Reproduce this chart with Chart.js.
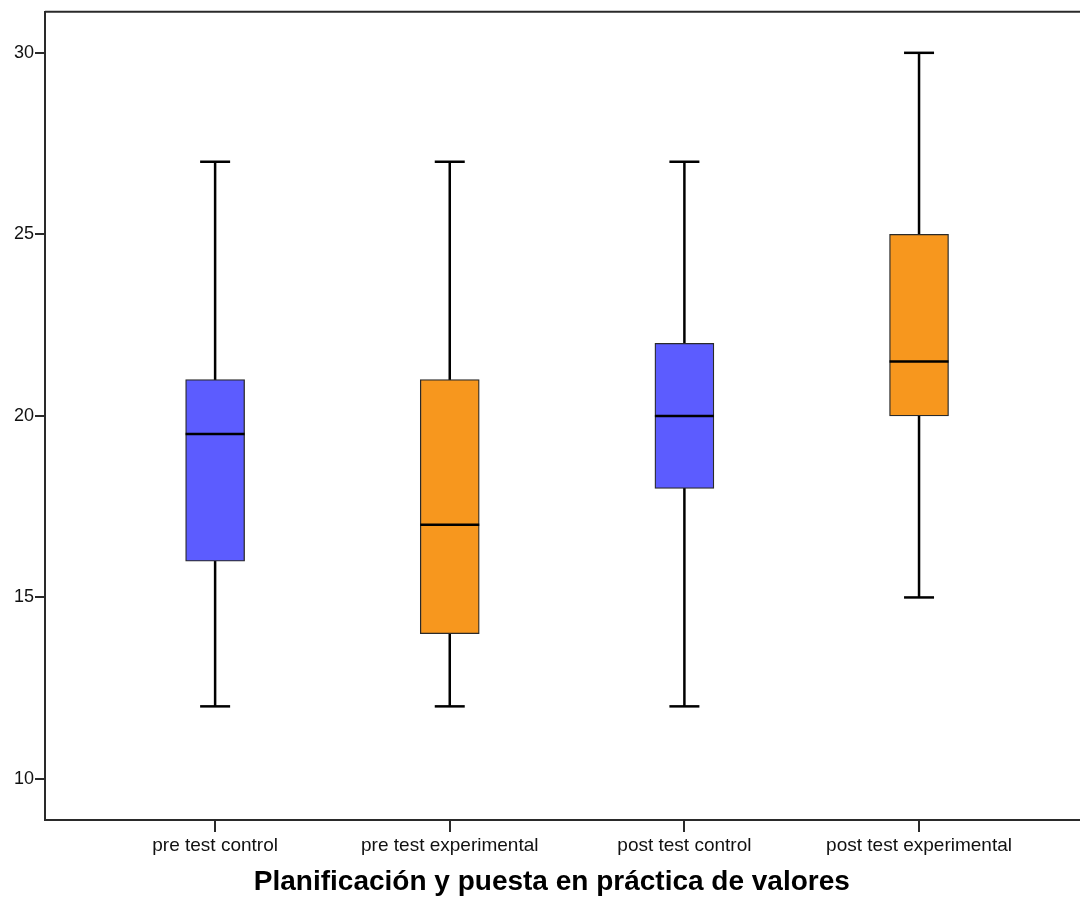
<!DOCTYPE html>
<html>
<head>
<meta charset="utf-8">
<script src="https://cdn.jsdelivr.net/npm/chart.js@4.4.1/dist/chart.umd.min.js"></script>
<style>
  html, body { margin: 0; padding: 0; background: #fff; }
  canvas { display: block; }
</style>
</head>
<body>
<canvas id="boxChart" width="1080" height="897"></canvas>
<script>
const categories = ['pre test control', 'pre test experimental', 'post test control', 'post test experimental'];
const minVals = [12, 12, 12, 15];
const q1Vals = [16, 14, 18, 20];
const medianVals = [19.5, 17, 20, 21.5];
const q3Vals = [21, 21, 22, 25];
const maxVals = [27, 27, 27, 30];
const boxColors = ['#5C5CFF', '#F7971E', '#5C5CFF', '#F7971E'];
const yTicks = [10, 15, 20, 25, 30];
const axisTitle = 'Planificación y puesta en práctica de valores';

const lineColor = '#2a2a2a';

// whiskers behind the boxes, medians on top, plus top frame line and axis title
const boxPlotPlugin = {
  id: 'boxPlot',
  beforeDatasetsDraw(chart) {
    const { ctx, scales: { x, y } } = chart;
    ctx.save();
    ctx.strokeStyle = '#000';
    ctx.lineWidth = 2.5;
    categories.forEach((c, i) => {
      const px = x.getPixelForValue(i);
      ctx.beginPath();
      ctx.moveTo(px, y.getPixelForValue(maxVals[i]));
      ctx.lineTo(px, y.getPixelForValue(minVals[i]));
      ctx.stroke();
      [minVals[i], maxVals[i]].forEach(v => {
        const py = y.getPixelForValue(v);
        ctx.beginPath();
        ctx.moveTo(px - 15, py);
        ctx.lineTo(px + 15, py);
        ctx.stroke();
      });
    });
    ctx.restore();
  },
  afterDatasetsDraw(chart) {
    const { ctx, scales: { x, y } } = chart;
    const bars = chart.getDatasetMeta(0).data;
    ctx.save();
    ctx.strokeStyle = '#000';
    ctx.lineWidth = 2.5;
    categories.forEach((c, i) => {
      const py = y.getPixelForValue(medianVals[i]);
      const half = bars[i].width / 2;
      const px = x.getPixelForValue(i);
      ctx.beginPath();
      ctx.moveTo(px - half, py);
      ctx.lineTo(px + half, py);
      ctx.stroke();
    });
    ctx.restore();
  },
  afterDraw(chart) {
    const { ctx, chartArea } = chart;
    ctx.save();
    ctx.strokeStyle = lineColor;
    ctx.lineWidth = 2;
    ctx.beginPath();
    ctx.moveTo(chartArea.left, chartArea.top);
    ctx.lineTo(chartArea.right, chartArea.top);
    ctx.stroke();
    ctx.fillStyle = '#000';
    ctx.font = 'bold 28px "Liberation Sans", Arial, sans-serif';
    ctx.textAlign = 'center';
    ctx.textBaseline = 'middle';
    ctx.fillText(axisTitle, chartArea.left + (chartArea.right - chartArea.left) * 0.4897, 882);
    ctx.restore();
  }
};

window.addEventListener('load', () => {
  const ctx = document.getElementById('boxChart').getContext('2d');
  new Chart(ctx, {
    type: 'bar',
    data: {
      datasets: [{
        data: categories.map((c, i) => ({ x: i, y: [q1Vals[i], q3Vals[i]] })),
        backgroundColor: boxColors,
        borderColor: lineColor,
        borderWidth: 1.3,
        borderSkipped: false,
        barThickness: 59
      }]
    },
    options: {
      responsive: false,
      animation: false,
      devicePixelRatio: 1,
      layout: { padding: { top: 11, left: 0, right: 0, bottom: 37 } },
      plugins: {
        legend: { display: false },
        tooltip: { enabled: false }
      },
      scales: {
        x: {
          type: 'linear',
          min: -0.725,
          max: 3.686,
          offset: false,
          afterBuildTicks: scale => { scale.ticks = categories.map((c, i) => ({ value: i })); },
          afterFit: scale => { scale.height = 40; },
          grid: { offset: false, drawOnChartArea: false, drawTicks: true, tickLength: 12, color: lineColor, lineWidth: 2 },
          border: { color: lineColor, width: 2 },
          ticks: {
            padding: 2,
            color: '#111',
            font: { family: '"Liberation Sans", Arial, sans-serif', size: 19 },
            callback: v => categories[v],
            maxRotation: 0,
            autoSkip: false
          }
        },
        y: {
          min: 8.87,
          max: 31.13,
          afterBuildTicks: scale => { scale.ticks = yTicks.map(v => ({ value: v })); },
          afterFit: scale => { scale.width = 45; },
          grid: { drawOnChartArea: false, drawTicks: true, tickLength: 10, color: lineColor, lineWidth: 2 },
          border: { color: lineColor, width: 2 },
          ticks: {
            padding: 1,
            color: '#111',
            font: { family: '"Liberation Sans", Arial, sans-serif', size: 18 }
          }
        }
      }
    },
    plugins: [boxPlotPlugin]
  });
});
</script>
</body>
</html>
